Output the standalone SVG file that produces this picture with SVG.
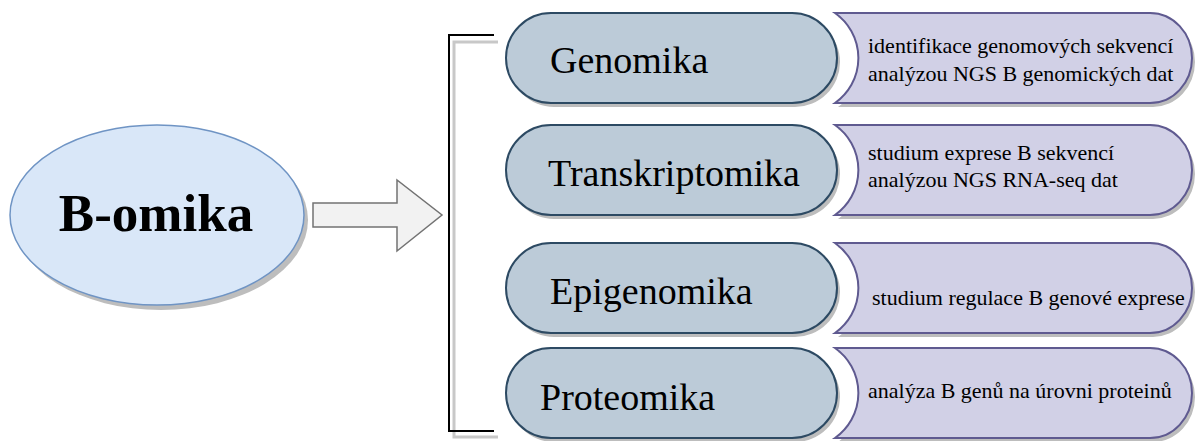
<svg xmlns="http://www.w3.org/2000/svg" width="1195" height="441" viewBox="0 0 1195 441">
<defs>
  <path id="lpill" d="M551 0 L792 0 A45 45 0 0 1 792 90 L551 90 A45 45 0 0 1 551 0 Z"/>
  <path id="rpill" d="M835 0 L1150 0 A42 45 0 0 1 1150 90 L835 90 A55 55 0 0 0 835 0 Z"/>
</defs>
<rect width="1195" height="441" fill="#ffffff"/>

<g id="connectors">
  <polyline points="498,42 454,42 454,437 498,437" fill="none" stroke="#c8c8c8" stroke-width="3"/>
  <polyline points="494,35 449,35 449,431 494,431" fill="none" stroke="#000" stroke-width="2"/>
  <path d="M313 203 L397 203 L397 180 L442 215 L397 251 L397 227 L313 227 Z" fill="#f2f2f2" stroke="#737373" stroke-width="1.5"/>
</g>

<g id="b-omika">
  <ellipse cx="161" cy="220" rx="147" ry="90" fill="#bdbdbd"/>
  <ellipse cx="157" cy="215" rx="147" ry="90" fill="#d9e7f8" stroke="#6f94c4" stroke-width="1.5"/>
  <text x="156" y="231" text-anchor="middle" font-family="Liberation Serif" font-size="53" font-weight="bold">B-omika</text>
</g>

<g id="genomika">
  <use href="#rpill" fill="#bdbdbd" x="3" y="17"/>
  <use href="#rpill" fill="#d1d0e6" stroke="#5f5a90" stroke-width="2" y="13"/>
  <use href="#lpill" fill="#bdbdbd" x="3" y="17"/>
  <use href="#lpill" fill="#bccbd8" stroke="#2d4a63" stroke-width="2" y="13"/>
  <text x="550" y="73" font-family="Liberation Serif" font-size="38">Genomika</text>
  <text x="868" y="53" font-family="Liberation Serif" font-size="22">identifikace genomových sekvencí</text>
  <text x="868" y="81" font-family="Liberation Serif" font-size="22">analýzou NGS B genomických dat</text>
</g>

<g id="transkriptomika">
  <use href="#rpill" fill="#bdbdbd" x="3" y="129"/>
  <use href="#rpill" fill="#d1d0e6" stroke="#5f5a90" stroke-width="2" y="125"/>
  <use href="#lpill" fill="#bdbdbd" x="3" y="129"/>
  <use href="#lpill" fill="#bccbd8" stroke="#2d4a63" stroke-width="2" y="125"/>
  <text x="548" y="186" font-family="Liberation Serif" font-size="38">Transkriptomika</text>
  <text x="868" y="160" font-family="Liberation Serif" font-size="22">studium exprese B sekvencí</text>
  <text x="868" y="187" font-family="Liberation Serif" font-size="22">analýzou NGS RNA-seq dat</text>
</g>

<g id="epigenomika">
  <use href="#rpill" fill="#bdbdbd" x="3" y="247"/>
  <use href="#rpill" fill="#d1d0e6" stroke="#5f5a90" stroke-width="2" y="243"/>
  <use href="#lpill" fill="#bdbdbd" x="3" y="247"/>
  <use href="#lpill" fill="#bccbd8" stroke="#2d4a63" stroke-width="2" y="243"/>
  <text x="550" y="304" font-family="Liberation Serif" font-size="38">Epigenomika</text>
  <text x="872" y="305" font-family="Liberation Serif" font-size="22">studium regulace B genové exprese</text>
</g>

<g id="proteomika">
  <use href="#rpill" fill="#bdbdbd" x="3" y="352"/>
  <use href="#rpill" fill="#d1d0e6" stroke="#5f5a90" stroke-width="2" y="348"/>
  <use href="#lpill" fill="#bdbdbd" x="3" y="352"/>
  <use href="#lpill" fill="#bccbd8" stroke="#2d4a63" stroke-width="2" y="348"/>
  <text x="540" y="410" font-family="Liberation Serif" font-size="38">Proteomika</text>
  <text x="868" y="398" font-family="Liberation Serif" font-size="22">analýza B genů na úrovni proteinů</text>
</g>
</svg>
